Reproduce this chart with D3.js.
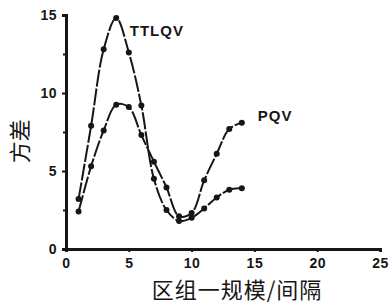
<!DOCTYPE html>
<html>
<head>
<meta charset="utf-8">
<script src="https://cdn.jsdelivr.net/npm/d3@7"></script>
<style>
  body { margin: 0; background: #fff; }
  svg { display: block; }
</style>
</head>
<body>
<script>
// block size / interval
let blockSize = [1, 2, 3, 4, 5, 6, 7, 8, 9, 10, 11, 12, 13, 14]
let ttlqv = [3.2, 7.9, 12.8, 14.8, 12.6, 9.2, 4.5, 2.5, 1.8, 2.0, 2.6, 3.3, 3.8, 3.9]
let pqv = [2.4, 5.3, 7.6, 9.25, 9.1, 7.3, 5.6, 3.95, 2.1, 2.3, 4.4, 6.1, 7.7, 8.1]
let xTicks = [0, 5, 10, 15, 20, 25]
let yTicks = [0, 5, 10, 15]
let yMinor = [2.5, 7.5, 12.5]

let width = 392
let height = 306
let margin = { top: 15, right: 12, bottom: 57, left: 66 }

const svg = d3.select("body")
  .append("svg")
  .attr("width", width)
  .attr("height", height)

var x = d3.scaleLinear()
  .domain([0, 25])
  .range([margin.left, width - margin.right])

var y = d3.scaleLinear()
  .domain([0, 15])
  .range([height - margin.bottom, margin.top])

const ink = "#161616"
const tickFont = "'Liberation Sans', Arial, sans-serif"

// x axis
const gx = svg.append("g")
  .attr("transform", `translate(0,${y(0)})`)
  .call(d3.axisBottom(x).tickValues(xTicks).tickSize(3).tickPadding(6))
gx.select(".domain").attr("stroke", ink).attr("stroke-width", 3)
gx.selectAll(".tick line").attr("stroke", ink).attr("stroke-width", 2)
gx.selectAll(".tick text")
  .attr("fill", ink)
  .style("font", `bold 14px ${tickFont}`)
  .style("letter-spacing", "0.5px")

// y axis
const gy = svg.append("g")
  .attr("transform", `translate(${x(0)},0)`)
  .call(d3.axisLeft(y).tickValues(yTicks).tickSize(4).tickPadding(5))
gy.select(".domain").attr("stroke", ink).attr("stroke-width", 3)
gy.selectAll(".tick line").attr("stroke", ink).attr("stroke-width", 2)
gy.selectAll(".tick text")
  .attr("fill", ink)
  .style("font", `bold 14px ${tickFont}`)
  .style("letter-spacing", "0.5px")

const gyMinor = svg.append("g")
  .attr("transform", `translate(${x(0)},0)`)
  .call(d3.axisLeft(y).tickValues(yMinor).tickSize(3).tickFormat(""))
gyMinor.select(".domain").remove()
gyMinor.selectAll(".tick line").attr("stroke", ink).attr("stroke-width", 2)

// lines
const line = d3.line()
  .x((d, i) => x(blockSize[i]))
  .y(d => y(d))
  .curve(d3.curveCatmullRom)

const series = [ttlqv, pqv]

svg.selectAll(".series")
  .data(series)
  .join("path")
  .attr("class", "series")
  .attr("d", d => line(d))
  .attr("fill", "none")
  .attr("stroke", ink)
  .attr("stroke-width", 2)
  .attr("stroke-dasharray", "17,2")

series.forEach(function (s) {
  svg.append("g")
    .selectAll("circle")
    .data(s)
    .join("circle")
    .attr("cx", (d, i) => x(blockSize[i]))
    .attr("cy", d => y(d))
    .attr("r", 3)
    .attr("fill", ink)
})

// series labels
svg.append("text")
  .attr("x", x(blockSize[4]) + 1)
  .attr("y", y(ttlqv[3]) + 18)
  .text("TTLQV")
  .attr("fill", ink)
  .style("font", `bold 15px ${tickFont}`)
  .style("letter-spacing", "1px")

svg.append("text")
  .attr("x", x(blockSize[13]) + 16)
  .attr("y", y(pqv[13]) - 2)
  .text("PQV")
  .attr("fill", ink)
  .style("font", `bold 15px ${tickFont}`)
  .style("letter-spacing", "1px")

// axis titles
svg.append("text")
  .attr("x", (x(0) + x(25)) / 2 + 14)
  .attr("y", height - 8)
  .attr("text-anchor", "middle")
  .text("区组一规模/间隔")
  .attr("fill", ink)
  .style("font", "400 22px 'Noto Sans CJK SC', sans-serif")
  .style("letter-spacing", "1px")

svg.append("text")
  .attr("transform", `translate(28,${y(6.9)}) rotate(-90)`)
  .attr("text-anchor", "middle")
  .text("方差")
  .attr("fill", ink)
  .style("font", "400 22px 'Noto Sans CJK SC', sans-serif")
</script>
</body>
</html>
